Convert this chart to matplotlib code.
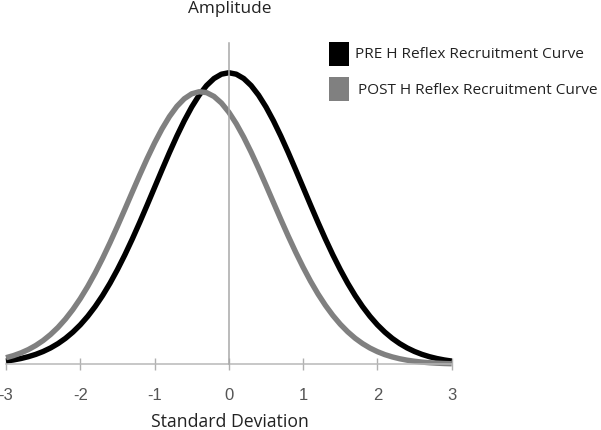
import matplotlib
matplotlib.use("Agg")
import matplotlib.pyplot as plt
from matplotlib.patches import Rectangle

# Standard deviation positions (x) and amplitudes
std_dev = [-3.0, -2.9, -2.8, -2.7, -2.6, -2.5, -2.4, -2.3, -2.2, -2.1,
           -2.0, -1.9, -1.8, -1.7, -1.6, -1.5, -1.4, -1.3, -1.2, -1.1,
           -1.0, -0.9, -0.8, -0.7, -0.6, -0.5, -0.4, -0.3, -0.2, -0.1,
           0.0, 0.1, 0.2, 0.3, 0.4, 0.5, 0.6, 0.7, 0.8, 0.9,
           1.0, 1.1, 1.2, 1.3, 1.4, 1.5, 1.6, 1.7, 1.8, 1.9,
           2.0, 2.1, 2.2, 2.3, 2.4, 2.5, 2.6, 2.7, 2.8, 2.9, 3.0]
pre_amplitude = [1.11, 1.49, 1.98, 2.61, 3.40, 4.39, 5.61, 7.10, 8.89, 11.03,
                 13.53, 16.45, 19.79, 23.57, 27.80, 32.47, 37.53, 42.96, 48.68, 54.61,
                 60.65, 66.69, 72.61, 78.27, 83.53, 88.25, 92.31, 95.60, 98.02, 99.50,
                 100.0, 99.50, 98.02, 95.60, 92.31, 88.25, 83.53, 78.27, 72.61, 66.69,
                 60.65, 54.61, 48.68, 42.96, 37.53, 32.47, 27.80, 23.57, 19.79, 16.45,
                 13.53, 11.03, 8.89, 7.10, 5.61, 4.39, 3.40, 2.61, 1.98, 1.49, 1.11]
post_amplitude = [2.26, 2.98, 3.90, 5.04, 6.45, 8.16, 10.22, 12.65, 15.50, 18.78,
                  22.51, 26.69, 31.31, 36.33, 41.70, 47.34, 53.16, 59.07, 64.92, 70.58,
                  75.90, 80.73, 84.96, 88.45, 91.08, 92.77, 93.48, 93.18, 91.87, 89.61,
                  86.46, 82.51, 77.90, 72.75, 67.22, 61.43, 55.53, 49.66, 43.93, 38.44,
                  33.28, 28.49, 24.13, 20.22, 16.76, 13.74, 11.15, 8.94, 7.10, 5.57,
                  4.33, 3.32, 2.53, 1.90, 1.41, 1.04, 0.76, 0.54, 0.39, 0.27, 0.19]
x_ticks = [-3, -2, -1, 0, 1, 2, 3]
series_labels = ["PRE H Reflex Recruitment Curve", "POST H Reflex Recruitment Curve"]
title_text = "Amplitude"
xlabel_text = "Standard Deviation"

W, H = 601, 430
fig = plt.figure(figsize=(W / 100, H / 100), dpi=100)
fig.patch.set_facecolor("white")

# axes placement in pixels
x_left, x_right = 6.0, 451.7
y_base, y_top = 364.3, 42.7
ax = fig.add_axes([x_left / W, 1 - y_base / H, (x_right - x_left) / W, (y_base - y_top) / H])
ax.set_facecolor("none")

ax.plot(std_dev, pre_amplitude, color="#000000", lw=3.9, solid_capstyle="butt",
        solid_joinstyle="round", clip_on=False, zorder=2)
ax.plot(std_dev, post_amplitude, color="#808080", lw=3.9, solid_capstyle="butt",
        solid_joinstyle="round", clip_on=False, zorder=2.1)

ax.set_xlim(-3, 3)
ax.set_ylim(0, 110.3)

for s in ["top", "right"]:
    ax.spines[s].set_visible(False)
ax.spines["bottom"].set_position(("data", 0))
ax.spines["bottom"].set_color("#b8b8b8")
ax.spines["bottom"].set_linewidth(1.1)
ax.spines["left"].set_position(("data", 0))
ax.spines["left"].set_color("#a8a8a8")
ax.spines["left"].set_linewidth(1.1)
ax.spines["left"].set_zorder(3)

ax.set_yticks([])
ax.set_xticks(x_ticks)
ax.set_xticklabels([str(t) for t in x_ticks],
                   fontfamily=["Liberation Sans Narrow", "Liberation Sans", "DejaVu Sans"],
                   fontsize=12, color="#555555")
ax.tick_params(axis="x", direction="inout", length=8, width=1.0, color="#b0b0b0", pad=13)

fig.text(229.5 / W, 1 - 9 / H, title_text, ha="center", va="center",
         fontfamily=["Open Sans", "DejaVu Sans"], fontsize=12.4, color="#222222")
fig.text(230 / W, 1 - 422 / H, xlabel_text, ha="center", va="center",
         fontfamily=["Open Sans", "DejaVu Sans"], fontsize=12.7, color="#222222")

# legend drawn manually
leg_colors = ["#000000", "#808080"]
leg_rect_y = [42, 77]
leg_text_x = [355, 358]
leg_text_y = [55, 90]
for lab, c, ry, tx, ty in zip(series_labels, leg_colors, leg_rect_y, leg_text_x, leg_text_y):
    fig.add_artist(Rectangle((329 / W, 1 - (ry + 24) / H), 20 / W, 24 / H,
                             transform=fig.transFigure, facecolor=c, edgecolor="none"))
    fig.text(tx / W, 1 - ty / H, lab, ha="left", va="center",
             fontfamily=["Open Sans", "DejaVu Sans"], fontsize=11.1, color="#222222")

fig.savefig("out.png", dpi=100, facecolor="white")
